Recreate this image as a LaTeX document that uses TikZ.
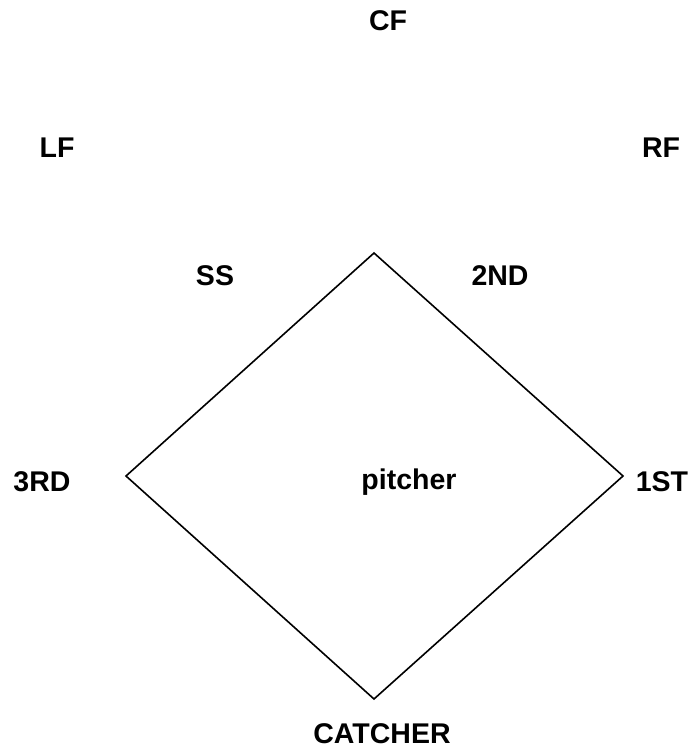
\documentclass[tikz,border=0pt]{standalone}
\usepackage{fontspec}
\setmainfont{Liberation Sans}
\begin{document}
\begin{tikzpicture}[x=1pt,y=-1pt,
  lbl/.style={font=\fontsize{28.5}{30}\selectfont\bfseries, inner sep=0pt}]
\useasboundingbox (0,0) rectangle (696,749);
\coordinate (b2) at (374,253);
\coordinate (b3) at (126,476);
\coordinate (b1) at (623,476);
\coordinate (hp) at (374,699);
\draw[line width=1.6pt, line join=miter] (b2) -- (b1) -- (hp) -- (b3) -- cycle;
\node[lbl] (cf) at (388,21) {CF};
\node[lbl] (lf) at (57,148) {LF};
\node[lbl] (rf) at (661,148) {RF};
\node[lbl] (ss) at (215,276) {SS};
\node[lbl] (nd) at (500,276) {2ND};
\node[lbl] (rd) at (42,482) {3RD};
\node[lbl] (st) at (662,482) {1ST};
\node[lbl] (p) at (409,482) {pitcher};
\node[lbl] (c) at (382,734) {CATCHER};
\end{tikzpicture}
\end{document}
